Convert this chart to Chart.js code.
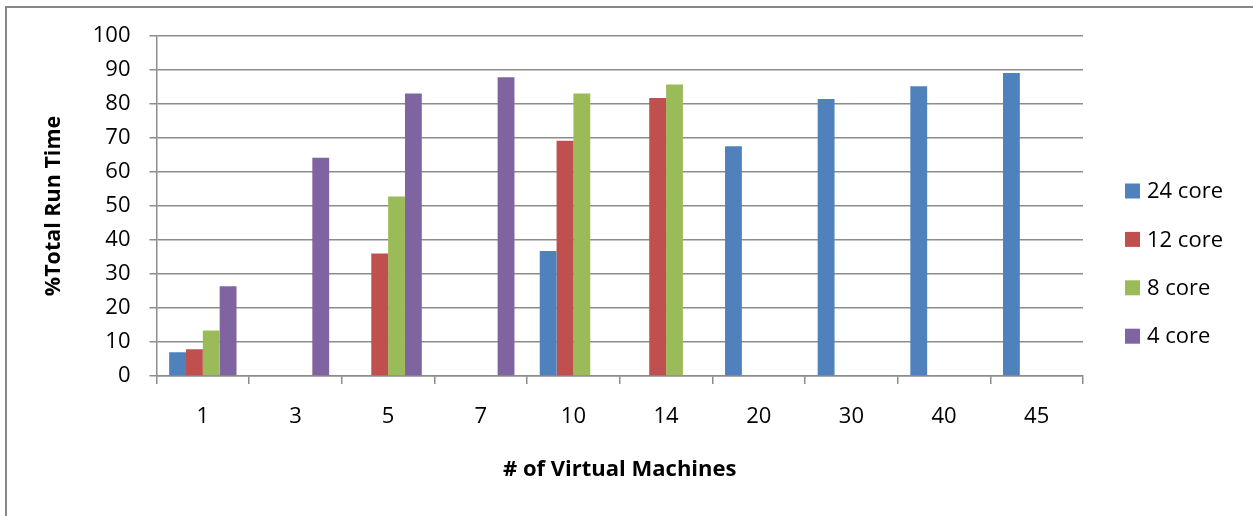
<!DOCTYPE html>
<html>
<head>
<meta charset="utf-8">
<title>% Total Run Time by Number of Virtual Machines</title>
<script src="https://cdn.jsdelivr.net/npm/chart.js@4/dist/chart.umd.min.js"></script>
<style>
  html, body { margin: 0; padding: 0; background: #ffffff; }
  #wrap { position: relative; width: 1253px; height: 516px; overflow: hidden; }
  #frame {
    position: absolute; left: 5px; top: 6px; width: 1300px; height: 600px;
    border-left: 2px solid #878787; border-top: 2px solid #878787;
    box-sizing: border-box; pointer-events: none;
  }
  canvas { position: absolute; left: 0; top: 0; }
</style>
</head>
<body>
<div id="wrap">
  <canvas id="chart" width="1253" height="516"></canvas>
  <div id="frame"></div>
</div>
<script>
// Virtual machine counts along the x axis
const machines = ['1', '3', '5', '7', '10', '14', '20', '30', '40', '45'];

// % of total run time for each core configuration
const core24 = [7.0, null, null, null, 36.8, null, 67.6, 81.5, 85.2, 89.1];
const core12 = [7.9, null, 36.0, null, 69.2, 81.8, null, null, null, null];
const core8  = [13.4, null, 52.8, null, 83.1, 85.7, null, null, null, null];
const core4  = [26.4, 64.2, 83.1, 87.9, null, null, null, null, null, null];

const seriesNames = ['24 core', '12 core', '8 core', '4 core'];
const yTicks = [0, 10, 20, 30, 40, 50, 60, 70, 80, 90, 100];

const colors = ['#4F81BD', '#C0504D', '#9BBB59', '#8064A2'];
const gridColor = '#8c8c8c';
const labelFont = { family: "'Open Sans', sans-serif", size: 22 };

// Legend drawn to the right of the plot: square swatch + label per series
const sideLegend = {
  id: 'sideLegend',
  afterDraw(chart) {
    const ctx = chart.ctx;
    const x0 = 1125, y0 = 191, step = 48.4, box = 15;
    ctx.save();
    ctx.font = "22px 'Open Sans', sans-serif";
    ctx.textBaseline = 'middle';
    ctx.textAlign = 'left';
    chart.data.datasets.forEach((ds, i) => {
      const cy = y0 + i * step;
      ctx.fillStyle = ds.backgroundColor;
      ctx.fillRect(x0, cy - box / 2, box, box);
      ctx.fillStyle = '#000000';
      ctx.fillText(ds.label, x0 + 22, cy + 1);
    });
    ctx.restore();
  }
};

const seriesValues = [core24, core12, core8, core4];

new Chart(document.getElementById('chart'), {
  type: 'bar',
  data: {
    labels: machines,
    datasets: seriesNames.map((name, i) => ({
      label: name,
      data: seriesValues[i],
      backgroundColor: colors[i],
      borderWidth: 0,
      categoryPercentage: 4 / 5.5,
      barPercentage: 1.0
    }))
  },
  options: {
    responsive: false,
    animation: false,
    devicePixelRatio: 1,
    layout: { padding: { left: 0, top: 36, right: 170, bottom: 0 } },
    plugins: {
      legend: { display: false },
      tooltip: { enabled: false }
    },
    scales: {
      x: {
        offset: true,
        grid: {
          offset: true,
          drawOnChartArea: false,
          drawTicks: true,
          tickLength: 8,
          color: gridColor,
          lineWidth: 1.5
        },
        border: { display: true, color: gridColor, width: 1.5 },
        ticks: { color: '#000000', font: labelFont, padding: 20, maxRotation: 0 },
        title: {
          display: true,
          text: '# of Virtual Machines',
          color: '#000000',
          font: { family: "'Open Sans', sans-serif", size: 22, weight: 'bold' },
          padding: { top: 0, bottom: 33 }
        },
        afterFit(scale) { scale.height = 140; }
      },
      y: {
        min: 0,
        max: 100,
        afterBuildTicks(scale) { scale.ticks = yTicks.map(v => ({ value: v })); },
        grid: {
          color: gridColor,
          lineWidth: 1.5,
          drawTicks: true,
          tickLength: 7
        },
        border: { display: true, color: gridColor, width: 1.5 },
        ticks: { color: '#000000', font: labelFont, padding: 19 },
        title: {
          display: true,
          text: '%Total Run Time',
          color: '#000000',
          font: { family: "'Open Sans', sans-serif", size: 21.5, weight: 'bold' },
          padding: { top: 41, bottom: 0 }
        },
        afterFit(scale) { scale.width = 156.5; }
      }
    }
  },
  plugins: [sideLegend]
});
</script>
</body>
</html>
